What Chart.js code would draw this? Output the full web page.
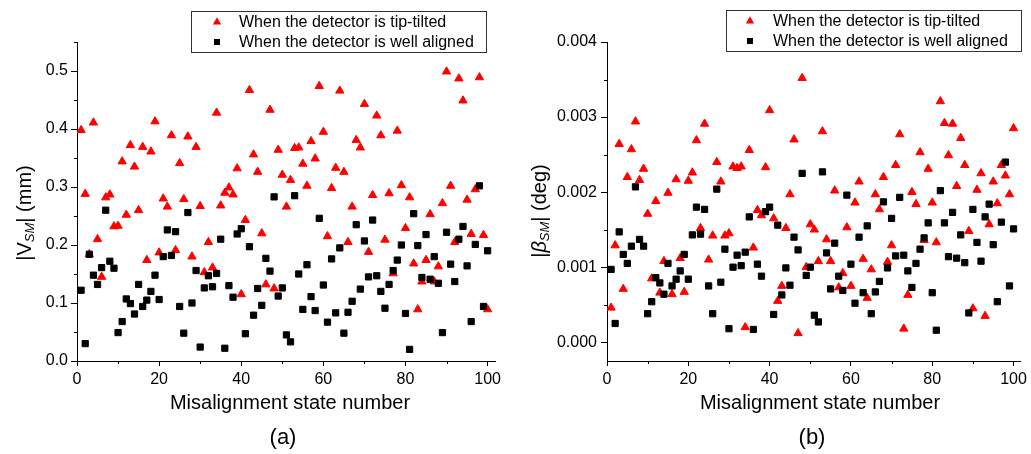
<!DOCTYPE html>
<html>
<head>
<meta charset="utf-8">
<title>Misalignment scatter</title>
<script src="https://cdn.jsdelivr.net/npm/chart.js@4.4.0/dist/chart.umd.min.js"></script>
<style>
    html, body { margin: 0; padding: 0; background: #fff; }
    #wrap { position: relative; width: 1031px; height: 454px; overflow: hidden; }
    #chartA { position: absolute; left: 0; top: 0; width: 515px; height: 454px; }
    #chartB { position: absolute; left: 515px; top: 0; width: 516px; height: 454px; }
</style>
</head>
<body>
<div id="wrap">
    <canvas id="chartA" width="515" height="454"></canvas>
    <canvas id="chartB" width="516" height="454"></canvas>
</div>
<script>
// Misalignment state numbers (x axis, shared by both panels)
const stateNumbers = [
    1, 2, 3, 4, 5, 6, 7, 8, 9, 10, 11, 12, 13, 14, 15, 16, 17, 18, 19, 20,
    21, 22, 23, 24, 25, 26, 27, 28, 29, 30, 31, 32, 33, 34, 35, 36, 37, 38, 39, 40,
    41, 42, 43, 44, 45, 46, 47, 48, 49, 50, 51, 52, 53, 54, 55, 56, 57, 58, 59, 60,
    61, 62, 63, 64, 65, 66, 67, 68, 69, 70, 71, 72, 73, 74, 75, 76, 77, 78, 79, 80,
    81, 82, 83, 84, 85, 86, 87, 88, 89, 90, 91, 92, 93, 94, 95, 96, 97, 98, 99, 100
];

// (a) |V_SM| in mm
const vsmTilted = [
    0.398, 0.288, 0.184, 0.411, 0.210, 0.145, 0.282, 0.287, 0.232, 0.233,
    0.344, 0.252, 0.372, 0.335, 0.260, 0.369, 0.174, 0.361, 0.413, 0.187,
    0.280, 0.266, 0.389, 0.191, 0.341, 0.279, 0.387, 0.180, 0.369, 0.267,
    0.153, 0.205, 0.161, 0.428, 0.268, 0.290, 0.299, 0.287, 0.332, 0.115,
    0.243, 0.467, 0.356, 0.326, 0.220, 0.132, 0.433, 0.125, 0.364, 0.321,
    0.266, 0.312, 0.367, 0.368, 0.340, 0.302, 0.379, 0.349, 0.474, 0.395,
    0.215, 0.298, 0.333, 0.466, 0.326, 0.205, 0.266, 0.381, 0.368, 0.443,
    0.188, 0.286, 0.423, 0.389, 0.209, 0.289, 0.151, 0.397, 0.303, 0.229,
    0.282, 0.168, 0.089, 0.137, 0.174, 0.253, 0.137, 0.163, 0.272, 0.499,
    0.302, 0.205, 0.487, 0.449, 0.278, 0.219, 0.296, 0.489, 0.217, 0.089
];
const vsmAligned = [
    0.122, 0.030, 0.184, 0.148, 0.132, 0.161, 0.260, 0.172, 0.160, 0.049,
    0.068, 0.107, 0.099, 0.081, 0.132, 0.094, 0.105, 0.120, 0.148, 0.106,
    0.180, 0.226, 0.182, 0.223, 0.094, 0.048, 0.256, 0.100, 0.156, 0.024,
    0.126, 0.147, 0.128, 0.151, 0.210, 0.022, 0.130, 0.110, 0.219, 0.228,
    0.047, 0.197, 0.079, 0.125, 0.096, 0.177, 0.155, 0.283, 0.112, 0.126,
    0.045, 0.033, 0.285, 0.150, 0.089, 0.166, 0.111, 0.087, 0.246, 0.131,
    0.067, 0.176, 0.083, 0.195, 0.048, 0.084, 0.103, 0.235, 0.124, 0.207,
    0.145, 0.243, 0.147, 0.120, 0.091, 0.132, 0.156, 0.174, 0.200, 0.082,
    0.020, 0.254, 0.199, 0.144, 0.218, 0.141, 0.180, 0.134, 0.049, 0.222,
    0.167, 0.137, 0.210, 0.232, 0.164, 0.068, 0.201, 0.302, 0.094, 0.190
];

// (b) |beta_SM| in deg
const betaTilted = [
    0.00046, 0.00129, 0.00264, 0.00071, 0.00220, 0.00257, 0.00294, 0.00216, 0.00231, 0.00171,
    0.00085, 0.00188, 0.00066, 0.00108, 0.00199, 0.00064, 0.00217, 0.00112, 0.00067, 0.00215,
    0.00226, 0.00269, 0.00152, 0.00291, 0.00110, 0.00142, 0.00240, 0.00214, 0.00142, 0.00145,
    0.00234, 0.00232, 0.00234, 0.00020, 0.00256, 0.00126, 0.00176, 0.00169, 0.00233, 0.00309,
    0.00165, 0.00055, 0.00075, 0.00152, 0.00197, 0.00270, 0.00012, 0.00352, 0.00100, 0.00157,
    0.00150, 0.00108, 0.00281, 0.00137, 0.00108, 0.00202, 0.00073, 0.00092, 0.00153, 0.00075,
    0.00186, 0.00214, 0.00111, 0.00059, 0.00097, 0.00197, 0.00177, 0.00220, 0.00107, 0.00129,
    0.00236, 0.00277, 0.00018, 0.00063, 0.00200, 0.00184, 0.00253, 0.00136, 0.00231, 0.00186,
    0.00133, 0.00321, 0.00292, 0.00249, 0.00291, 0.00208, 0.00272, 0.00236, 0.00148, 0.00045,
    0.00203, 0.00225, 0.00035, 0.00157, 0.00214, 0.00185, 0.00236, 0.00222, 0.00197, 0.00285
];
const betaAligned = [
    0.00097, 0.00025, 0.00147, 0.00117, 0.00105, 0.00128, 0.00207, 0.00137, 0.00128, 0.00038,
    0.00054, 0.00086, 0.00079, 0.00064, 0.00105, 0.00075, 0.00084, 0.00095, 0.00117, 0.00084,
    0.00143, 0.00180, 0.00144, 0.00177, 0.00075, 0.00038, 0.00204, 0.00080, 0.00124, 0.00018,
    0.00100, 0.00116, 0.00102, 0.00120, 0.00167, 0.00017, 0.00104, 0.00088, 0.00174, 0.00180,
    0.00037, 0.00156, 0.00063, 0.00099, 0.00076, 0.00140, 0.00123, 0.00225, 0.00089, 0.00100,
    0.00036, 0.00027, 0.00227, 0.00119, 0.00071, 0.00132, 0.00088, 0.00069, 0.00196, 0.00104,
    0.00052, 0.00140, 0.00066, 0.00155, 0.00038, 0.00067, 0.00081, 0.00187, 0.00099, 0.00165,
    0.00115, 0.00193, 0.00116, 0.00095, 0.00073, 0.00105, 0.00124, 0.00139, 0.00159, 0.00066,
    0.00016, 0.00202, 0.00159, 0.00114, 0.00173, 0.00112, 0.00143, 0.00106, 0.00039, 0.00177,
    0.00133, 0.00108, 0.00167, 0.00184, 0.00130, 0.00054, 0.00160, 0.00240, 0.00075, 0.00151
];

// Legend labels and minor tick values
const seriesLabels = ['When the detector is tip-tilted', 'When the detector is well aligned'];
const xMinorTicks = [10, 30, 50, 70, 90];
const vsmMinorTicks = [0.05, 0.15, 0.25, 0.35, 0.45, 0.55];
const betaMinorTicks = [0.0005, 0.0015, 0.0025, 0.0035];

const FONT = '"Liberation Sans", Arial, Helvetica, sans-serif';
const RED = '#ff0000';
const BLACK = '#000000';

Chart.defaults.font.family = FONT;
Chart.defaults.color = '#000';

function toPoints(values) {
    return values.map((v, i) => ({ x: stateNumbers[i], y: v }));
}

// Draws minor ticks, axis titles, panel label and the boxed legend
const decorPlugin = {
    id: 'decor',
    afterDraw(chart, args, opts) {
        const ctx = chart.ctx;
        const xs = chart.scales.x;
        const ys = chart.scales.y;
        ctx.save();

        // minor ticks
        ctx.strokeStyle = '#000';
        ctx.lineWidth = 1;
        ctx.beginPath();
        opts.xMinor.forEach(v => {
            const px = Math.round(xs.getPixelForValue(v)) + 0.5;
            ctx.moveTo(px, ys.bottom);
            ctx.lineTo(px, ys.bottom + 3);
        });
        opts.yMinor.forEach(v => {
            const py = Math.round(ys.getPixelForValue(v)) + 0.5;
            ctx.moveTo(xs.left - 3, py);
            ctx.lineTo(xs.left, py);
        });
        ctx.stroke();

        ctx.fillStyle = '#000';
        ctx.textBaseline = 'middle';

        // x title and panel label
        ctx.textAlign = 'center';
        ctx.font = '20px ' + FONT;
        ctx.fillText(opts.xTitle.text, opts.xTitle.x, opts.xTitle.y);
        ctx.font = '22px ' + FONT;
        ctx.fillText(opts.panel.text, opts.panel.x, opts.panel.y);

        // y title with subscript
        ctx.save();
        ctx.translate(opts.yTitle.x, opts.yTitle.y);
        ctx.rotate(-Math.PI / 2);
        ctx.textAlign = 'left';
        let total = 0;
        opts.yTitle.parts.forEach(p => {
            ctx.font = p.font;
            p.w = ctx.measureText(p.t).width;
            total += p.w;
        });
        let cx = -total / 2;
        opts.yTitle.parts.forEach(p => {
            ctx.font = p.font;
            ctx.fillText(p.t, cx, p.dy || 0);
            cx += p.w;
        });
        ctx.restore();

        // legend
        const lg = opts.legend;
        ctx.strokeStyle = '#333';
        ctx.lineWidth = 1;
        ctx.strokeRect(lg.x + 0.5, lg.y + 0.5, lg.w, lg.h);
        ctx.font = '16px ' + FONT;
        ctx.textAlign = 'left';

        const r = 4.8;
        ctx.fillStyle = RED;
        ctx.beginPath();
        ctx.moveTo(lg.markX, lg.row1 - r);
        ctx.lineTo(lg.markX + r * 0.866, lg.row1 + r / 2);
        ctx.lineTo(lg.markX - r * 0.866, lg.row1 + r / 2);
        ctx.closePath();
        ctx.fill();

        ctx.fillStyle = BLACK;
        ctx.fillRect(lg.markX - 3, lg.row2 - 3, 6, 6);

        ctx.fillText(seriesLabels[0], lg.textX, lg.row1 + 1);
        ctx.fillText(seriesLabels[1], lg.textX, lg.row2 + 1);

        ctx.restore();
    }
};

function makeChart(canvasId, cfg) {
    const ctx = document.getElementById(canvasId);
    return new Chart(ctx, {
        type: 'scatter',
        data: {
            datasets: [
                {
                    label: seriesLabels[0],
                    data: toPoints(cfg.tilted),
                    pointStyle: 'triangle',
                    pointRadius: 4.8,
                    pointBackgroundColor: RED,
                    pointBorderColor: RED,
                    pointBorderWidth: 1,
                    order: 2
                },
                {
                    label: seriesLabels[1],
                    data: toPoints(cfg.aligned),
                    pointStyle: 'rect',
                    pointRadius: 4.4,
                    pointBackgroundColor: BLACK,
                    pointBorderColor: BLACK,
                    pointBorderWidth: 1,
                    order: 1
                }
            ]
        },
        options: {
            responsive: false,
            animation: false,
            devicePixelRatio: 1,
            layout: {
                padding: { left: 0, right: cfg.padRight, top: 42, bottom: 0 }
            },
            scales: {
                x: {
                    type: 'linear',
                    min: 0,
                    max: 101.8,
                    afterFit: s => { s.height = 93; },
                    border: { display: true, color: '#000', width: 1 },
                    grid: {
                        display: true,
                        drawOnChartArea: false,
                        drawTicks: true,
                        tickLength: 5,
                        color: '#000',
                        tickColor: '#000'
                    },
                    ticks: {
                        stepSize: 20,
                        includeBounds: false,
                        padding: 4,
                        maxRotation: 0,
                        color: '#000',
                        font: { size: 16 },
                        callback: v => String(v)
                    }
                },
                y: {
                    type: 'linear',
                    min: cfg.yMin,
                    max: cfg.yMax,
                    afterFit: s => { s.width = cfg.yWidth; },
                    border: { display: true, color: '#000', width: 1 },
                    grid: {
                        display: true,
                        drawOnChartArea: false,
                        drawTicks: true,
                        tickLength: 6,
                        color: '#000',
                        tickColor: '#000'
                    },
                    ticks: {
                        stepSize: cfg.yStep,
                        includeBounds: false,
                        padding: cfg.yPad,
                        color: '#000',
                        font: { size: 16 },
                        callback: v => Number(v).toFixed(cfg.yDigits)
                    }
                }
            },
            plugins: {
                legend: { display: false },
                tooltip: { enabled: false },
                decor: {
                    xMinor: xMinorTicks,
                    yMinor: cfg.yMinor,
                    xTitle: cfg.xTitle,
                    panel: cfg.panel,
                    yTitle: cfg.yTitle,
                    legend: cfg.legend
                }
            }
        },
        plugins: [decorPlugin]
    });
}

// Panel (a)
makeChart('chartA', {
    tilted: vsmTilted,
    aligned: vsmAligned,
    yMin: 0,
    yMax: 0.55,
    yStep: 0.1,
    yDigits: 1,
    yMinor: vsmMinorTicks,
    yWidth: 77,
    yPad: 3,
    padRight: 20,
    xTitle: { text: 'Misalignment state number', x: 290, y: 403 },
    panel: { text: '(a)', x: 283, y: 438 },
    yTitle: {
        x: 25, y: 213,
        parts: [
            { t: '|V', font: '20px ' + FONT },
            { t: 'SM', font: 'italic 13px ' + FONT, dy: 5 },
            { t: '| (mm)', font: '20px ' + FONT }
        ]
    },
    legend: { x: 191, y: 11, w: 295, h: 41, markX: 217, textX: 239, row1: 22, row2: 42 }
});

// Panel (b)
makeChart('chartB', {
    tilted: betaTilted,
    aligned: betaAligned,
    yMin: -0.00025,
    yMax: 0.004,
    yStep: 0.001,
    yDigits: 3,
    yMinor: betaMinorTicks,
    yWidth: 92,
    yPad: 4,
    padRight: 6,
    xTitle: { text: 'Misalignment state number', x: 305, y: 403 },
    panel: { text: '(b)', x: 297, y: 438 },
    yTitle: {
        x: 25, y: 211,
        parts: [
            { t: '|', font: '20px ' + FONT },
            { t: 'β', font: 'italic 20px ' + FONT },
            { t: 'SM', font: 'italic 13px ' + FONT, dy: 5 },
            { t: '| (deg)', font: '20px ' + FONT }
        ]
    },
    legend: { x: 211, y: 10, w: 295, h: 41, markX: 235, textX: 258, row1: 21, row2: 41 }
});
</script>
</body>
</html>
